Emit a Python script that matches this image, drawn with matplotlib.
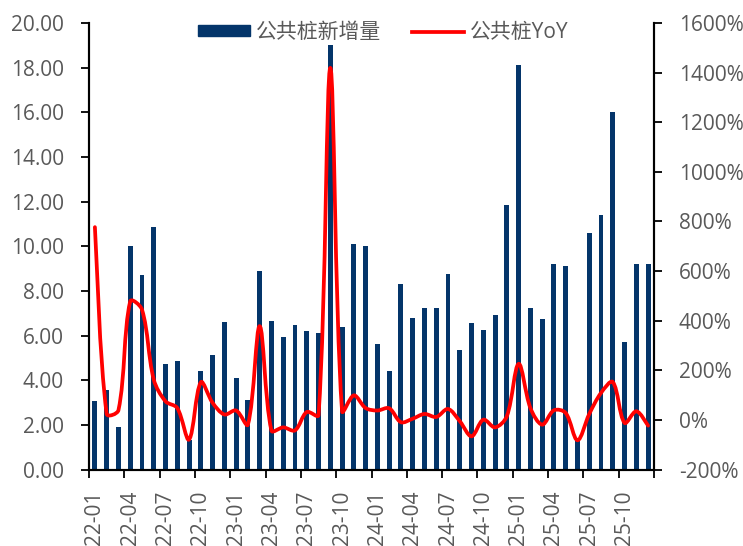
import numpy as np
import matplotlib
matplotlib.use("Agg")
import matplotlib.pyplot as plt
from matplotlib.path import Path
from matplotlib.patches import PathPatch, Patch
from matplotlib.lines import Line2D

plt.rcParams['font.family'] = ['Open Sans', 'Noto Sans CJK SC', 'DejaVu Sans']

# months 22-01 .. 25-12
months = [f"{y}-{m:02d}" for y in range(22, 26) for m in range(1, 13)]

# public charging piles, monthly additions (10k units)
new_piles = [3.05, 3.58, 1.90, 10.03, 8.73, 10.85, 4.73, 4.85, 1.32, 4.43, 5.15, 6.63,
             4.10, 3.10, 8.88, 6.67, 5.93, 6.49, 6.22, 6.10, 19.00, 6.37, 10.10, 10.00,
             5.61, 4.42, 8.31, 6.79, 7.24, 7.24, 8.76, 5.37, 6.55, 6.27, 6.94, 11.85,
             18.10, 7.22, 6.75, 9.21, 9.12, 1.30, 10.60, 11.39, 15.99, 5.72, 9.21, 9.21]

# year over year growth (%)
yoy = [777, 24, 39, 478, 445, 163, 75, 48, -79, 152, 69, 22,
       38, -19, 378, -43, -30, -42, 32, 19, 1419, 35, 99, 48,
       38, 47, -9, 5, 24, 12, 44, -5, -66, 1, -30, 15,
       226, 48, -19, 39, 28, -82, 24, 109, 153, -12, 35, -23]

bar_color = '#04356A'
line_color = '#FF0000'
text_color = '#595959'
fs = 15


### smooth line through the points (Excel style), bezier segments whose
### control points are weighted by the neighbouring segment lengths on screen
def smooth_path(xs, ys, sx, sy):
    pts = np.column_stack([xs, ys]).astype(float)
    scr = pts * np.array([sx, sy])
    n = len(pts)

    def dist(i, j):
        return np.hypot(*(scr[j] - scr[i]))

    verts = [pts[0]]
    codes = [Path.MOVETO]
    for i in range(n - 1):
        i0 = max(i - 1, 0)
        i3 = min(i + 2, n - 1)
        d01, d12, d23 = dist(i0, i), dist(i, i + 1), dist(i + 1, i3)
        f1 = d12 / (d01 + d12) / 3.0 if d01 > 0 else 1 / 6.0
        f2 = d12 / (d12 + d23) / 3.0 if d23 > 0 else 1 / 6.0
        c1 = pts[i] + (pts[i + 1] - pts[i0]) * f1
        c2 = pts[i + 1] - (pts[i3] - pts[i]) * f2
        verts += [c1, c2, pts[i + 1]]
        codes += [Path.CURVE4] * 3
    return Path(verts, codes)


fig = plt.figure(figsize=(7.43, 5.46), dpi=100)
ax = fig.add_axes([0.1198, 0.140, 0.7604, 0.818])
x = np.arange(len(months))

ax.bar(x, new_piles, width=0.42, color=bar_color, zorder=2)
ax.set_ylim(0, 20)
ax.set_yticks(np.arange(0, 20.1, 2))
ax.set_yticklabels([f"{v:.2f}" for v in np.arange(0, 20.1, 2)])
ax.set_xlim(-0.5, len(months) - 0.5)

ax2 = ax.twinx()
ax2.set_ylim(-200, 1600)
ax2.set_yticks(np.arange(-200, 1601, 200))
ax2.set_yticklabels([f"{v}%" for v in range(-200, 1601, 200)])
# pixels per category / per percent, for the smoothing weights
px_x = 565 / len(months)
px_y = 446.5 / 1800
ax2.add_patch(PathPatch(smooth_path(x, yoy, px_x, px_y), facecolor='none',
                        edgecolor=line_color, lw=2.7, capstyle='round',
                        joinstyle='round', zorder=3))

# x ticks: labels every 3 months, tick marks on the group borders
ax.set_xticks(x[::3])
ax.set_xticklabels(months[::3], rotation=90)
ax.tick_params(axis='x', length=0, pad=15)
ax.set_xticks(np.arange(-0.5, len(months), 3), minor=True)
ax.tick_params(axis='x', which='minor', length=6, width=1.3, direction='out', color='black')

for a in (ax, ax2):
    for s in a.spines.values():
        s.set_linewidth(1.5)
        s.set_color('black')
    a.spines['top'].set_visible(False)
    a.tick_params(axis='y', length=6, width=1.3, colors='black', labelcolor=text_color,
                  labelsize=fs, pad=12)
ax.tick_params(axis='x', labelcolor=text_color, labelsize=fs)

handles = [Patch(color=bar_color), Line2D([0], [0], color=line_color, lw=2.7)]
leg = ax.legend(handles, ['公共桩新增量', '公共桩YoY'], loc='center', ncol=2,
                bbox_to_anchor=(0.521, 0.978), frameon=False, fontsize=fs,
                handlelength=2.5, handleheight=0.43, handletextpad=0.3,
                columnspacing=1.45)
for t in leg.get_texts():
    t.set_color(text_color)

fig.savefig('out.png', dpi=100)
